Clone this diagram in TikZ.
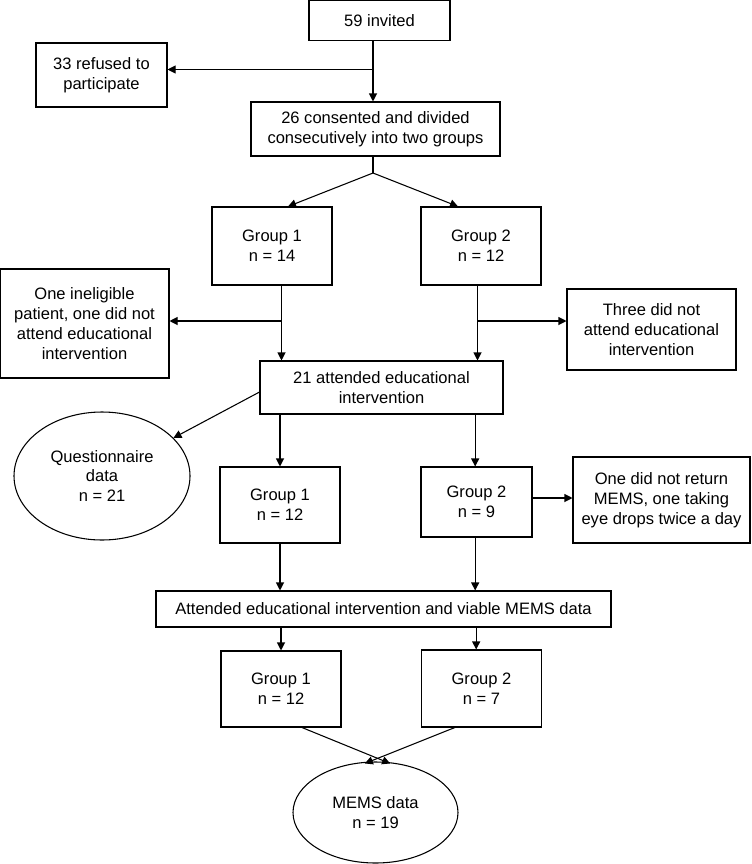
\documentclass[tikz,border=0pt]{standalone}
\usepackage{fontspec}
\setmainfont{Liberation Sans}
\usepackage{tikz}
\usetikzlibrary{shapes,arrows.meta,positioning,calc}
\tikzset{
    every picture/.style={font=\fontsize{12.4}{14.8}\selectfont},
}

\begin{document}
\begin{tikzpicture}[
    x=0.75pt, y=-0.75pt,
    % Base styles
    box/.style={rectangle, draw=black, line width=0.8pt, align=center, inner sep=2pt},
    databox/.style={ellipse, draw=black, line width=0.8pt, align=center, inner sep=0pt},
    groupbox/.style={box, minimum width=90pt, minimum height=57pt},
    % Arrows
    arr/.style={-{Triangle[length=6pt,width=6pt]}, line width=0.8pt},
    link/.style={line width=0.8pt}
]
\useasboundingbox (0,0) rectangle (751,864);

% === RECRUITMENT ===
\node[box, minimum width=105.75pt, minimum height=29.5pt] (invited) at (379.5,20.5) {59 invited};
\node[box, minimum width=98.25pt, minimum height=48pt] (refused) at (101.5,75) {33 refused to\\participate};
\node[box, minimum width=186.75pt, minimum height=40.5pt] (consented) at (375.5,129) {26 consented and divided\\consecutively into two groups};

\coordinate (split1) at (373,69.5);
\draw[link] (invited.south -| split1) -- (split1);
\draw[arr] (split1) -- (split1 -| refused.east);
\draw[arr] (split1) -- (consented.north -| split1);

% === FIRST ALLOCATION ===
\node[groupbox, minimum width=90pt, minimum height=58.5pt] (grp1a) at (272,246) {Group 1\\n = 14};
\node[groupbox, minimum width=90pt, minimum height=58.5pt] (grp2a) at (481,246) {Group 2\\n = 12};

\coordinate (split2) at (373,173);
\draw[link] (consented.south -| split2) -- (split2);
\draw[arr] (split2) -- ([xshift=12pt]grp1a.north);
\draw[arr] (split2) -- ([xshift=-17.25pt]grp2a.north);

% Drop-outs
\node[box, minimum width=126.75pt, minimum height=81.75pt] (inelig) at (84.5,323.5) {One ineligible\\patient, one did not\\attend educational\\intervention};
\node[box, minimum width=126.75pt, minimum height=60.75pt] (noattend) at (651.5,329.5) {Three did not\\attend educational\\intervention};
\node[box, minimum width=182.25pt, minimum height=39.75pt] (attended) at (381.5,387.5) {21 attended educational\\intervention};

\coordinate (drop1) at (281.5,321);
\coordinate (drop2) at (477.5,321);
\draw[link] (grp1a.south -| drop1) -- (drop1);
\draw[link] (grp2a.south -| drop2) -- (drop2);
\draw[arr] (drop1) -- (drop1 -| inelig.east);
\draw[arr] (drop2) -- (drop2 -| noattend.west);
\draw[arr] (drop1) -- (drop1 |- attended.north);
\draw[arr] (drop2) -- (drop2 |- attended.north);

% === AFTER INTERVENTION ===
\node[databox, minimum width=132pt, minimum height=96pt] (questdata) at (102,476) {Questionnaire\\data\\n = 21};
\node[groupbox] (grp1b) at (280,505) {Group 1\\n = 12};
\node[groupbox, minimum width=83.25pt, minimum height=52.5pt] (grp2b) at (476.5,502) {Group 2\\n = 9};
\node[box, minimum width=132.75pt, minimum height=64.5pt] (memsout) at (661.5,500) {One did not return\\MEMS, one taking\\eye drops twice a day};

\draw[arr] ([yshift=-3.4pt]attended.west) -- (questdata);
\draw[arr] (attended.south -| grp1b) -- (grp1b.north);
\draw[arr] ([xshift=-1pt]attended.south -| grp2b) -- ([xshift=-1pt]grp2b.north);
\draw[arr] ([yshift=3pt]grp2b.east) -- ([yshift=3pt]grp2b.east -| memsout.west);

% === MEMS DATA ===
\node[box, minimum width=341.25pt, minimum height=27pt] (viable) at (383.5,609) {Attended educational intervention and viable MEMS data};

\draw[arr] (grp1b.south) -- (grp1b.south |- viable.north);
\draw[arr] ([xshift=-1pt]grp2b.south) -- ([xshift=-1pt]grp2b.south |- viable.north);

\node[groupbox] (grp1c) at (281,689) {Group 1\\n = 12};
\node[groupbox, minimum height=57.75pt] (grp2c) at (481.5,688.5) {Group 2\\n = 7};
\node[databox, minimum width=123.75pt, minimum height=75.75pt] (memsdata) at (375.5,812.5) {MEMS data\\n = 19};

\draw[arr] (viable.south -| grp1c) -- (grp1c.north);
\draw[arr] ([xshift=-4pt]viable.south -| grp2c) -- ([xshift=-4pt]grp2c.north);
\draw[arr] ([xshift=15.75pt]grp1c.south) -- ([xshift=11pt,yshift=-1.5pt]memsdata.north);
\draw[arr] ([xshift=-20pt]grp2c.south) -- ([xshift=-8pt,yshift=-1.5pt]memsdata.north);

\end{tikzpicture}
\end{document}
